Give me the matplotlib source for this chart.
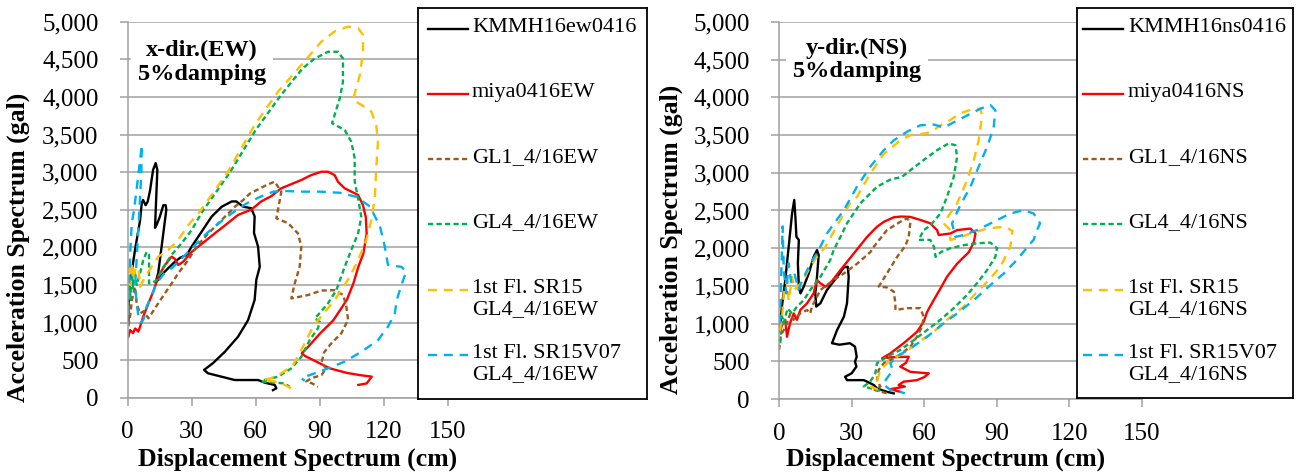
import matplotlib.pyplot as plt
from matplotlib.ticker import FuncFormatter

plt.rcParams['font.family'] = ['Liberation Serif', 'DejaVu Serif']

# ---------------- data: x-dir (EW) ----------------
ew_labels = ['KMMH16ew0416', 'miya0416EW', 'GL1_4/16EW', 'GL4_4/16EW',
             '1st Fl. SR15\nGL4_4/16EW', '1st Fl. SR15V07\nGL4_4/16EW']

ew_kmmh = [(0.3, 1000), (0.6, 1430), (3.4, 1960), (5.8, 2360), (6.6, 2590), (7.2, 2630), (8.4, 2560),
           (9.4, 2610), (10.5, 2760), (11.9, 3030), (13.1, 3120), (13.9, 3030), (12.8, 2260), (13.6, 2300),
           (15.1, 2410), (16.7, 2560), (17.8, 2560), (18.1, 2500), (15.9, 2010), (14.3, 1660), (13.1, 1530),
           (17.5, 1680), (22.2, 1810), (24.5, 1860), (27.7, 1900), (30.0, 2010), (34.7, 2210), (39.4, 2410),
           (44.1, 2540), (48.8, 2610), (50.9, 2610), (54.1, 2540), (57.9, 2520), (59.5, 2410), (59.2, 2190),
           (61.1, 2010), (61.9, 1740), (60.3, 1570), (59.5, 1300), (56.4, 1030), (51.7, 810), (45.5, 610),
           (40.0, 460), (35.8, 370), (37.6, 325), (43.9, 280), (50.2, 235), (61.1, 235), (64.2, 200),
           (68.9, 170), (69.7, 125), (68.1, 100)]
ew_miya = [(0.3, 810), (1.1, 900), (2.5, 860), (3.5, 920), (5.0, 880), (5.8, 945), (7.3, 1080), (9.7, 1255),
           (12.0, 1410), (14.3, 1610), (17.5, 1765), (20.6, 1875), (22.0, 1850), (23.7, 1765), (26.1, 1810),
           (30.0, 1940), (36.2, 2080), (40.8, 2185), (46.0, 2300), (51.7, 2430), (57.9, 2500), (62.6, 2610),
           (67.3, 2680), (72.0, 2785), (81.4, 2895), (86.0, 2960), (90.8, 3005), (93.9, 3005), (97.0, 2960),
           (98.6, 2870), (101.7, 2785), (108.0, 2695), (110.3, 2560), (111.6, 2400), (112.0, 2185),
           (110.5, 1920), (108.1, 1740), (105.8, 1520), (102.7, 1300), (96.4, 1030), (90.2, 855), (84.7, 680),
           (81.6, 590), (83.1, 555), (90.2, 455), (94.8, 390), (102.7, 330), (108.9, 300), (114.4, 280),
           (112.0, 190), (108.1, 170)]
ew_gl1 = [(0.3, 950), (1.1, 1080), (2.0, 1300), (3.4, 1475), (4.2, 1250), (5.8, 1120), (7.5, 1150), (9.7, 1055),
          (11.2, 1120), (14.3, 1255), (17.5, 1390), (20.6, 1520), (23.7, 1655), (28.4, 1830), (32.3, 2010),
          (37.8, 2185), (44.1, 2365), (50.3, 2540), (54.2, 2630), (57.3, 2715), (65.2, 2830), (68.9, 2873),
          (72.0, 2740), (71.3, 2630), (69.7, 2385), (75.2, 2320), (79.8, 2185), (81.4, 2010), (80.6, 1740),
          (78.3, 1520), (76.7, 1320), (84.5, 1365), (90.8, 1425), (97.0, 1430), (101.0, 1365), (102.5, 1210),
          (103.3, 1035), (100.1, 855), (95.5, 725), (92.0, 600), (90.8, 460), (93.1, 390), (90.8, 300),
          (86.1, 260), (83.7, 215), (86.5, 190), (89.2, 145)]
ew_gl4 = [(0.3, 1210), (0.8, 1600), (1.3, 1300), (1.9, 1740), (2.5, 1450), (3.2, 1700), (4.2, 1500), (5.8, 1655),
          (7.3, 1830), (8.9, 1940), (10.0, 1900), (10.0, 1520), (11.2, 1520), (13.6, 1565), (15.9, 1700),
          (20.6, 1900), (25.3, 2055), (30.0, 2230), (35.0, 2475), (48.0, 3000), (60.0, 3560), (72.0, 4030),
          (82.0, 4380), (87.7, 4510), (93.9, 4600), (98.6, 4600), (100.9, 4510), (100.9, 4200), (99.4, 3980),
          (95.8, 3650), (101.7, 3560), (104.8, 3405), (106.4, 3185), (106.4, 2875), (108.0, 2650),
          (109.5, 2405), (108.0, 2185), (104.8, 1965), (101.7, 1740), (97.8, 1430), (93.9, 1255), (89.2, 1100),
          (87.7, 1055), (90.0, 1010), (89.2, 925), (85.3, 765), (81.4, 545), (76.7, 390), (70.5, 280),
          (64.2, 235), (62.6, 215), (73.6, 190), (75.9, 145)]
ew_sr15 = [(0.3, 1500), (0.6, 1740), (1.2, 1500), (2.0, 1800), (2.6, 1565), (3.5, 1700), (5.0, 1740), (5.8, 1475),
           (8.0, 1600), (11.2, 1740), (14.3, 1875), (19.0, 1965), (23.7, 2100), (28.0, 2280), (33.8, 2475),
           (47.0, 3006), (59.5, 3627), (70.5, 4070), (81.4, 4425), (90.8, 4735), (97.0, 4870), (103.3, 4935),
           (108.0, 4915), (110.3, 4825), (110.3, 4600), (108.8, 4290), (105.6, 3960), (109.5, 3895),
           (114.2, 3805), (116.5, 3625), (117.3, 3405), (116.5, 3050), (115.8, 2650), (114.2, 2365),
           (111.9, 2100), (108.0, 1830), (104.1, 1610), (100.1, 1430), (97.0, 1300), (93.1, 1165), (90.0, 1055),
           (86.9, 945), (83.7, 765), (80.6, 590), (77.5, 435), (72.0, 325), (67.3, 260), (63.4, 235),
           (68.9, 215), (73.6, 170), (76.7, 125)]
ew_sr15v07 = [(0.3, 1100), (0.8, 1600), (1.3, 2000), (1.9, 2320), (3.0, 2500), (4.7, 2895), (5.8, 3160),
              (6.6, 3360), (6.4, 3000), (5.5, 2500), (4.5, 2000), (3.5, 1500), (4.2, 1250), (5.2, 1050),
              (6.5, 1000), (7.5, 1050), (8.9, 1210), (13.6, 1520), (17.0, 1650), (21.4, 1740), (27.7, 1920),
              (37.0, 2185), (46.4, 2405), (55.8, 2585), (62.0, 2670), (68.3, 2740), (73.0, 2750), (80.8, 2740),
              (90.2, 2740), (99.5, 2725), (107.3, 2670), (113.6, 2540), (118.3, 2275), (120.5, 2010),
              (122.0, 1765), (128.3, 1740), (130.6, 1675), (129.1, 1565), (126.1, 1300), (125.2, 1120),
              (122.0, 945), (117.3, 765), (109.5, 610), (101.7, 480), (93.9, 390), (87.7, 325), (81.4, 260),
              (83.0, 225)]

# ---------------- data: y-dir (NS) ----------------
ns_labels = ['KMMH16ns0416', 'miya0416NS', 'GL1_4/16NS', 'GL4_4/16NS',
             '1st Fl. SR15\nGL4_4/16NS', '1st Fl. SR15V07\nGL4_4/16NS']

ns_kmmh = [(0.3, 900), (1.2, 1225), (2.6, 1580), (4.0, 2020), (5.4, 2460), (6.3, 2640), (6.8, 2400),
           (7.2, 2150), (8.2, 2110), (7.8, 1800), (8.2, 1490), (8.9, 1400), (10.2, 1490), (12.3, 1665),
           (14.3, 1885), (15.7, 1975), (16.4, 1910), (15.7, 1620), (15.0, 1400), (15.4, 1225), (17.1, 1270),
           (19.8, 1445), (24.0, 1620), (26.8, 1745), (28.4, 1755), (28.8, 1620), (28.1, 1270), (26.8, 1090),
           (24.0, 915), (21.9, 740), (25.0, 720), (29.3, 740), (31.4, 695), (32.1, 560), (31.4, 495),
           (32.0, 430), (30.0, 340), (27.3, 295), (28.1, 250), (35.0, 250), (36.4, 230), (39.2, 185),
           (40.5, 140), (44.6, 95), (47.4, 75)]
ns_miya = [(0.5, 915), (1.5, 1000), (2.6, 1050), (3.3, 825), (4.5, 1000), (6.1, 1135), (7.4, 1050), (8.8, 1180),
           (11.6, 1270), (14.3, 1400), (15.7, 1580), (17.1, 1535), (19.2, 1490), (21.2, 1535), (25.4, 1710),
           (30.9, 1930), (36.4, 2150), (40.5, 2285), (43.3, 2350), (47.4, 2410), (50.5, 2420), (54.3, 2415),
           (58.4, 2375), (62.5, 2330), (65.3, 2240), (66.0, 2175), (70.8, 2195), (73.6, 2240), (79.1, 2260),
           (81.2, 2195), (80.5, 2080), (78.5, 1950), (73.6, 1795), (69.4, 1620), (66.7, 1465), (63.9, 1310),
           (61.2, 1155), (59.8, 1025), (57.0, 890), (51.5, 740), (46.0, 605), (42.6, 540), (47.0, 555),
           (53.6, 560), (52.5, 480), (50.1, 430), (54.3, 360), (61.9, 340), (60.0, 290), (57.0, 250),
           (51.5, 230), (49.4, 185), (52.0, 165), (46.0, 130), (50.1, 95)]
ns_gl1 = [(0.0, 650), (0.8, 850), (2.0, 915), (3.3, 1005), (4.7, 1135), (6.0, 1050), (8.8, 1135), (11.6, 1180),
          (12.9, 1135), (13.6, 1225), (17.1, 1445), (22.6, 1580), (26.8, 1665), (32.3, 1795), (37.8, 1950),
          (39.2, 2020), (44.6, 2240), (50.1, 2350), (52.9, 2395), (54.3, 2350), (53.6, 2150), (52.2, 2030),
          (48.8, 1885), (44.6, 1665), (41.2, 1490), (44.6, 1480), (47.4, 1425), (48.1, 1270), (48.1, 1180),
          (52.9, 1205), (58.4, 1205), (59.8, 1090), (59.1, 960), (57.0, 825), (54.3, 695), (50.5, 600),
          (47.4, 540), (43.3, 475), (41.2, 385), (40.5, 250), (41.9, 165), (39.5, 120), (44.6, 75)]
ns_gl4 = [(0.5, 740), (1.2, 1100), (2.0, 1005), (3.5, 1200), (5.4, 1135), (7.4, 1225), (10.2, 1310),
          (12.9, 1445), (17.1, 1620), (21.2, 1845), (22.6, 1975), (25.4, 2150), (28.1, 2330), (33.6, 2595),
          (40.5, 2815), (46.0, 2910), (50.8, 2945), (54.3, 3035), (59.8, 3170), (65.3, 3300), (70.1, 3390),
          (72.9, 3365), (73.6, 3210), (72.2, 2945), (69.4, 2680), (66.7, 2460), (62.5, 2300), (59.8, 2240),
          (57.7, 2110), (62.5, 2110), (64.0, 2020), (64.7, 1885), (67.0, 1950), (70.8, 2000), (76.3, 2040),
          (81.8, 2065), (87.3, 2075), (90.1, 2000), (89.4, 1885), (86.0, 1710), (81.8, 1535), (77.7, 1380),
          (72.2, 1205), (66.7, 1050), (61.2, 915), (55.7, 780), (50.1, 650), (44.6, 560), (40.5, 475),
          (39.8, 340), (37.7, 230), (35.0, 165), (38.0, 140), (42.0, 110)]
ns_sr15 = [(0.3, 900), (1.2, 1050), (2.0, 1400), (3.3, 1580), (4.0, 1300), (5.4, 1620), (6.5, 1450), (8.0, 1500),
           (10.2, 1580), (12.9, 1755), (15.7, 1885), (19.2, 2020), (24.0, 2300), (29.3, 2595), (32.2, 2680),
           (37.7, 2990), (43.3, 3250), (50.1, 3430), (54.3, 3500), (59.8, 3520), (63.0, 3540), (66.7, 3630),
           (70.8, 3700), (74.9, 3790), (80.5, 3850), (83.2, 3850), (83.9, 3760), (82.5, 3430), (80.5, 3170),
           (77.7, 2900), (73.6, 2595), (70.5, 2450), (68.0, 2330), (70.8, 2240), (70.8, 2110), (73.6, 2130),
           (79.1, 2195), (86.0, 2260), (92.9, 2285), (96.5, 2230), (95.6, 2020), (91.5, 1755), (86.0, 1555),
           (81.0, 1390), (76.3, 1225), (69.4, 1050), (63.9, 890), (57.0, 740), (51.5, 605), (46.0, 515),
           (41.9, 385), (40.5, 230), (38.0, 160), (43.3, 95)]
ns_sr15v07 = [(0.3, 1000), (0.8, 1500), (1.5, 2290), (2.0, 1700), (3.0, 1400), (4.0, 1800), (5.0, 1550),
              (6.5, 1650), (8.0, 1450), (10.0, 1600), (13.0, 1800), (16.0, 1950), (19.8, 2195), (26.8, 2505),
              (32.2, 2815), (37.7, 3080), (43.3, 3300), (47.4, 3430), (52.9, 3545), (58.4, 3630), (64.0, 3640),
              (68.1, 3600), (72.2, 3670), (77.7, 3760), (83.2, 3850), (87.3, 3900), (89.4, 3830), (88.7, 3600),
              (86.0, 3345), (82.5, 3080), (79.1, 2815), (74.9, 2570), (71.5, 2330), (72.9, 2150), (76.3, 2175),
              (81.8, 2240), (88.7, 2350), (95.6, 2460), (101.1, 2505), (105.2, 2460), (107.9, 2330),
              (106.6, 2240), (105.2, 2110), (103.8, 2060), (98.3, 1845), (92.9, 1665), (87.3, 1510),
              (80.5, 1310), (73.6, 1135), (68.1, 1005), (61.2, 825), (54.3, 670), (49.0, 570), (46.0, 475),
              (47.0, 380), (44.6, 275), (43.0, 200), (46.0, 120), (50.1, 95), (52.0, 75)]

x_ticks = [0, 30, 60, 90, 120, 150]
y_ticks = [0, 500, 1000, 1500, 2000, 2500, 3000, 3500, 4000, 4500, 5000]

# line styles (Excel-like)
styles = [
    dict(color='black', ls='-'),
    dict(color='#FF0000', ls='-'),
    dict(color='#9C5A1E', ls=(0, (2.2, 1.4))),
    dict(color='#00B050', ls=(0, (2.2, 1.4))),
    dict(color='#FFC000', ls=(0, (3.8, 2.9))),
    dict(color='#00B0F0', ls=(0, (3.8, 2.9))),
]
grid_c = '#A0A0A0'
LW = 1.7

fig = plt.figure(figsize=(13.04, 4.75), dpi=100)
W, H = 1304.0, 475.0


def panel(ax_px, leg_px, series, labels, note, note_xy, ylab_xy, xlab_xy, leg_x):
    l, t, r, b = ax_px
    ax = fig.add_axes([l / W, 1 - b / H, (r - l) / W, (b - t) / H])
    for pts, st in zip(series, styles):
        ax.plot([p[0] for p in pts], [p[1] for p in pts], lw=LW, solid_joinstyle='round',
                dash_joinstyle='round', **st)
    ax.set_xlim(0, 150)
    ax.set_ylim(0, 5000)
    ax.set_xticks(x_ticks)
    ax.set_yticks(y_ticks)
    ax.yaxis.set_major_formatter(FuncFormatter(lambda v, p: f'{int(v):,}'))
    ax.grid(axis='y', color=grid_c, lw=1.1)
    ax.set_axisbelow(True)
    for s in ['top', 'right']:
        ax.spines[s].set_visible(False)
    for s in ['left', 'bottom']:
        ax.spines[s].set_color(grid_c)
        ax.spines[s].set_linewidth(1.1)
    ax.tick_params(axis='both', colors=grid_c, labelcolor='black', labelsize=18, length=6, width=1.1)
    ax.tick_params(axis='y', pad=15)
    ax.tick_params(axis='x', pad=11)
    ax.text(note_xy[0], note_xy[1], note, ha='center', va='center', fontsize=17.5, fontweight='bold',
            linespacing=1.15, zorder=5,
            bbox=dict(boxstyle='square,pad=0.28', fc='white', ec='none'))
    ax.text(ylab_xy[0], ylab_xy[1], 'Acceleration Spectrum (gal)', transform=ax.transAxes,
            rotation=90, ha='center', va='center', fontsize=18.5, fontweight='bold')
    ax.text(xlab_xy[0], xlab_xy[1], 'Displacement Spectrum (cm)', transform=ax.transAxes,
            ha='center', va='center', fontsize=18.5, fontweight='bold')

    # legend box drawn as its own axes in pixel units
    ll, lt, lr, lb = leg_px
    lax = fig.add_axes([ll / W, 1 - lb / H, (lr - ll) / W, (lb - lt) / H])
    lax.set_xlim(0, lr - ll)
    lax.set_ylim(lb - lt, 0)
    lax.set_xticks([])
    lax.set_yticks([])
    for s in lax.spines.values():
        s.set_color('black')
        s.set_linewidth(1.3)
    rows = [21, 86, 151, 216, 282, 347]
    for y, lab, st in zip(rows, labels, styles):
        lax.plot([leg_x[0], leg_x[1]], [y, y], lw=LW, **st)
        lax.text(leg_x[2], y - 11, lab, ha='left', va='top', fontsize=16, linespacing=1.12)
    return ax


panel((127.7, 21.7, 447.7, 397.7), (418, 8, 647, 399),
      [ew_kmmh, ew_miya, ew_gl1, ew_gl4, ew_sr15, ew_sr15v07], ew_labels,
      'x-dir.(EW)\n5%damping', (34.8, 4460), (-0.343, 0.40), (0.53, -0.163), (10, 50, 54))
panel((779, 22, 1142, 399), (1077, 8, 1293, 398),
      [ns_kmmh, ns_miya, ns_gl1, ns_gl4, ns_sr15, ns_sr15v07], ns_labels,
      'y-dir.(NS)\n5%damping', (32.2, 4500), (-0.296, 0.424), (0.46, -0.159), (6, 46, 51))

fig.savefig('out.png', dpi=100, facecolor='white')
